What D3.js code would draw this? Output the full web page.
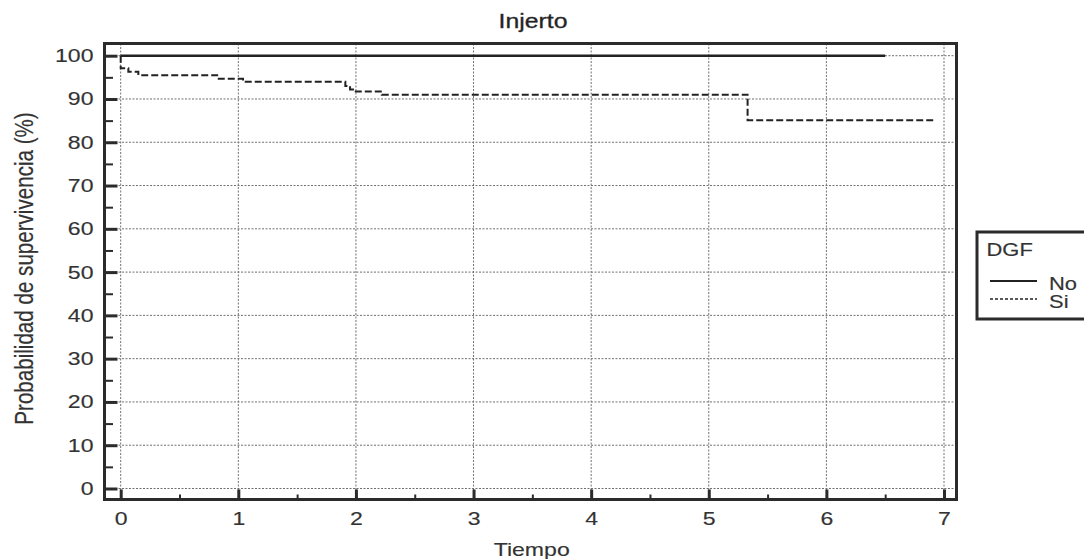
<!DOCTYPE html>
<html><head><meta charset="utf-8">
<script src="https://cdn.jsdelivr.net/npm/d3@7"></script>
<style>
html,body{margin:0;padding:0;background:#fff;}
svg{display:block;font-family:"Liberation Sans",Arial,sans-serif;}
svg text{stroke:#333;stroke-width:0.15px;}
</style></head>
<body>
<svg id="c" width="1084" height="559"></svg>
<script>
// ---- data ----
const title = "Injerto";
const xTitle = "Tiempo";
const yTitle = "Probabilidad de supervivencia (%)";
const legendTitle = "DGF";
const seriesNames = ["No", "Si"];
const noTime = [0, 6.5];
const noSurv = [100, 100];
const siTime = [0, 0, 0.065, 0.15, 0.82, 1.04, 1.91, 1.95, 1.99, 2.22, 5.33, 6.93];
const siSurv = [100, 97.1, 96.3, 95.5, 94.7, 94.0, 93.0, 92.2, 91.7, 91.0, 85.1, 85.1];
const xTicks = [0, 1, 2, 3, 4, 5, 6, 7];
const xMinorTicks = [0.5, 1.5, 2.5, 3.5, 4.5, 5.5, 6.5];
const yTicks = [0, 10, 20, 30, 40, 50, 60, 70, 80, 90, 100];
const yMinorTicks = [5, 15, 25, 35, 45, 55, 65, 75, 85, 95];

// ---- layout ----
const SX = 1.24; // horizontal text stretch
const frame = {x0: 104.5, x1: 956.5, y0: 43.5, y1: 499.5};
const x = d3.scaleLinear().domain([0, 7]).range([120.7, 944]);
const y = d3.scaleLinear().domain([0, 100]).range([488.5, 55.7]);
const ink = "#2b2b2b", txt = "#333";

const svg = d3.select("#c");

// gridlines
const grid = svg.append("g").attr("stroke", "#707070").attr("stroke-width", 1)
  .attr("stroke-dasharray", "2,1.5").attr("fill", "none");
grid.selectAll("line.v").data(xTicks).join("line").attr("class", "v")
  .attr("x1", d => x(d)).attr("x2", d => x(d)).attr("y1", frame.y0).attr("y2", frame.y1);
grid.selectAll("line.h").data(yTicks).join("line").attr("class", "h")
  .attr("y1", d => y(d)).attr("y2", d => y(d)).attr("x1", frame.x0).attr("x2", frame.x1);

// curves
const line = d3.line().x(d => x(d[0])).y(d => y(d[1])).curve(d3.curveStepAfter);
svg.append("path").datum(noTime.map((t, i) => [t, noSurv[i]]))
  .attr("d", line).attr("fill", "none").attr("stroke", "#222").attr("stroke-width", 2.6);
svg.append("path").datum(siTime.map((t, i) => [t, siSurv[i]]))
  .attr("d", line).attr("fill", "none").attr("stroke", "#222").attr("stroke-width", 2)
  .attr("stroke-dasharray", "7,3");

// axes
function styleAxis(g, w) {
  g.select(".domain").remove();
  g.selectAll(".tick line").attr("stroke", ink).attr("stroke-width", w);
}
const yAxis = svg.append("g").attr("transform", `translate(${frame.x0},0)`)
  .call(d3.axisLeft(y).tickValues(yTicks).tickFormat(d3.format("d"))
    .tickSizeInner(-13).tickSizeOuter(0).tickPadding(11));
styleAxis(yAxis, 3);
yAxis.selectAll(".tick text").attr("font-size", 18.6).attr("fill", txt)
  .attr("x", -11 / SX).attr("transform", `scale(${SX},1)`);
const yMinor = svg.append("g").attr("transform", `translate(${frame.x0},0)`)
  .call(d3.axisLeft(y).tickValues(yMinorTicks).tickSizeInner(-8.5).tickSizeOuter(0).tickFormat(""));
styleAxis(yMinor, 2);

const xAxis = svg.append("g").attr("transform", `translate(0,${frame.y1})`)
  .call(d3.axisBottom(x).tickValues(xTicks).tickFormat(d3.format("d"))
    .tickSizeInner(-10).tickSizeOuter(0).tickPadding(12.3));
styleAxis(xAxis, 3);
xAxis.selectAll(".tick text").attr("font-size", 18.6).attr("fill", txt)
  .attr("transform", `scale(${SX},1)`);
const xMinor = svg.append("g").attr("transform", `translate(0,${frame.y1})`)
  .call(d3.axisBottom(x).tickValues(xMinorTicks).tickSizeInner(-5).tickSizeOuter(0).tickFormat(""));
styleAxis(xMinor, 2);
svg.selectAll("g").attr("font-family", null);

// frame
svg.append("rect").attr("x", frame.x0).attr("y", frame.y0)
  .attr("width", frame.x1 - frame.x0).attr("height", frame.y1 - frame.y0)
  .attr("fill", "none").attr("stroke", ink).attr("stroke-width", 3);

// titles
function stretchedText(cx, cy, str, size, rot) {
  return svg.append("text")
    .attr("transform", `translate(${cx},${cy}) scale(${SX},1)` + (rot ? ` rotate(${rot})` : ""))
    .attr("text-anchor", "middle").attr("font-size", size).attr("fill", txt).text(str);
}
stretchedText(533, 28.3, title, 20, 0).attr("fill", "#222").style("stroke-width", "0.35px");
stretchedText(531.7, 555.5, xTitle, 18.6, 0);
stretchedText(32.5, 268.5, yTitle, 20.6, -90);

// legend
const lg = svg.append("g");
lg.append("rect").attr("x", 977).attr("y", 232).attr("width", 140).attr("height", 87)
  .attr("fill", "none").attr("stroke", ink).attr("stroke-width", 3);
lg.append("text").attr("transform", `translate(986.5,256) scale(${SX},1)`)
  .attr("font-size", 17.7).attr("fill", txt).text(legendTitle);
const ly = [281, 299];
const dashes = [null, "3,2"];
const lwidth = [2, 1.6];
seriesNames.forEach((s, i) => {
  lg.append("line").attr("x1", 990).attr("x2", 1037).attr("y1", ly[i]).attr("y2", ly[i])
    .attr("stroke", "#222").attr("stroke-width", lwidth[i]).attr("stroke-dasharray", dashes[i]);
  lg.append("text").attr("transform", `translate(1049,${ly[i] + 9}) scale(${SX},1)`)
    .attr("font-size", 17.7).attr("fill", txt).text(s);
});
</script>
</body></html>
